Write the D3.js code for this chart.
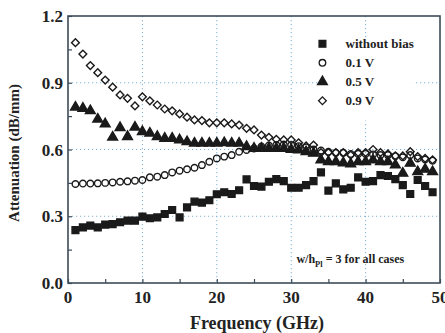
<!DOCTYPE html>
<html>
<head>
<meta charset="utf-8">
<script src="https://cdn.jsdelivr.net/npm/d3@7"></script>
<style>
  body { margin: 0; background: #fff; }
  svg { display: block; }
  text { font-family: "Liberation Serif", "Times New Roman", serif; font-weight: bold; fill: #222; }
</style>
</head>
<body>
<div id="chart"></div>
<script>
// frequency points (GHz)
const freq = d3.range(1, 50);

const withoutBias = [0.238, 0.25, 0.258, 0.25, 0.262, 0.265, 0.273, 0.28, 0.28, 0.298,
  0.291, 0.295, 0.31, 0.328, 0.295, 0.34, 0.366, 0.361, 0.372, 0.399,
  0.408, 0.40, 0.417, 0.466, 0.436, 0.433, 0.455, 0.467, 0.458, 0.428,
  0.428, 0.44, 0.458, 0.497, 0.415, 0.448, 0.421, 0.428, 0.475, 0.455,
  0.458, 0.485, 0.481, 0.467, 0.44, 0.40, 0.463, 0.436, 0.408];

const v01 = [0.445, 0.447, 0.447, 0.448, 0.45, 0.452, 0.455, 0.457, 0.46, 0.463,
  0.475, 0.478, 0.485, 0.497, 0.505, 0.511, 0.518, 0.53, 0.545, 0.56,
  0.568, 0.575, 0.59, 0.598, 0.605, 0.613, 0.618, 0.62, 0.622, 0.62,
  0.615, 0.61, 0.60, 0.595, 0.59, 0.585, 0.585, 0.58, 0.58, 0.58,
  0.578, 0.575, 0.575, 0.57, 0.565, 0.575, 0.56, 0.555, 0.55];

const v05 = [0.79, 0.785, 0.774, 0.736, 0.715, 0.655, 0.698, 0.658, 0.70, 0.68,
  0.673, 0.658, 0.65, 0.65, 0.643, 0.635, 0.628, 0.628, 0.628, 0.628,
  0.63, 0.628, 0.628, 0.613, 0.605, 0.605, 0.605, 0.605, 0.605, 0.60,
  0.598, 0.59, 0.583, 0.553, 0.545, 0.545, 0.54, 0.535, 0.545, 0.545,
  0.553, 0.545, 0.545, 0.53, 0.493, 0.538, 0.50, 0.511, 0.50];

const v09 = [1.08, 1.029, 0.977, 0.945, 0.912, 0.88, 0.845, 0.83, 0.796, 0.837,
  0.819, 0.80, 0.782, 0.774, 0.76, 0.745, 0.733, 0.73, 0.72, 0.72,
  0.72, 0.715, 0.71, 0.695, 0.688, 0.665, 0.655, 0.646, 0.643, 0.643,
  0.63, 0.616, 0.62, 0.586, 0.586, 0.586, 0.586, 0.575, 0.586, 0.586,
  0.60, 0.586, 0.58, 0.571, 0.571, 0.59, 0.568, 0.56, 0.553];

const xTicks = [0, 10, 20, 30, 40, 50];
const yTicks = [0.0, 0.3, 0.6, 0.9, 1.2];
const legendLabels = ['without bias', '0.1 V', '0.5 V', '0.9 V'];

const W = 445, H = 333;
const margin = { top: 16, right: 5, bottom: 50, left: 68 };
const pw = 440 - margin.left, ph = 283 - margin.top;

const svg = d3.select('#chart').append('svg')
  .attr('width', W)
  .attr('height', H);

const g = svg.append('g')
  .attr('transform', `translate(${margin.left},${margin.top})`);

const x = d3.scaleLinear().domain([0, 50]).range([0, pw]);
const y = d3.scaleLinear().domain([0, 1.2]).range([ph, 0]);

const axisColor = '#3d4b58';
const gridColor = '#7fb0d2';

// grid lines
g.selectAll('.gx')
  .data(xTicks.filter(d => d > 0 && d < 50))
  .enter().append('line')
  .attr('x1', d => x(d)).attr('x2', d => x(d))
  .attr('y1', 0).attr('y2', ph)
  .attr('stroke', gridColor)
  .attr('stroke-width', 1)
  .attr('stroke-dasharray', '1.2,2.8');

g.selectAll('.gy')
  .data(yTicks.filter(d => d > 0 && d < 1.2))
  .enter().append('line')
  .attr('x1', 0).attr('x2', pw)
  .attr('y1', d => y(d)).attr('y2', d => y(d))
  .attr('stroke', gridColor)
  .attr('stroke-width', 1)
  .attr('stroke-dasharray', '1.2,2.8');

// axes with inward ticks
const xAxis = g.append('g')
  .attr('transform', `translate(0,${ph})`)
  .call(d3.axisBottom(x).tickValues(d3.range(0, 51, 5)).tickSize(-4).tickFormat(''));
const yAxis = g.append('g')
  .call(d3.axisLeft(y).tickValues(d3.range(0, 1.21, 0.15)).tickSize(-4).tickFormat(''));

[xAxis, yAxis].forEach(a => {
  a.select('.domain').remove();
  a.selectAll('line').attr('stroke', axisColor).attr('stroke-width', 1.2);
});

// tick labels
g.selectAll('.xl')
  .data(xTicks)
  .enter().append('text')
  .attr('x', d => x(d))
  .attr('y', ph + 20)
  .attr('text-anchor', 'middle')
  .style('font-size', '17px')
  .text(d => d);

g.selectAll('.yl')
  .data(yTicks)
  .enter().append('text')
  .attr('x', -5)
  .attr('y', d => y(d) + 6)
  .attr('text-anchor', 'end')
  .style('font-size', '17px')
  .text(d => d.toFixed(1));

// frame
g.append('rect')
  .attr('width', pw)
  .attr('height', ph)
  .attr('fill', 'none')
  .attr('stroke', axisColor)
  .attr('stroke-width', 1.6);

// axis titles
svg.append('text')
  .attr('x', 257)
  .attr('y', 329)
  .attr('text-anchor', 'middle')
  .style('font-size', '18px')
  .text('Frequency (GHz)');

svg.append('text')
  .attr('transform', `translate(19,153) rotate(-90)`)
  .attr('text-anchor', 'middle')
  .style('font-size', '15px')
  .text('Attenuation (dB/mm)');

// markers
const sq = d3.symbol().type(d3.symbolSquare).size(46)();
const circ = d3.symbol().type(d3.symbolCircle).size(34)();
const tri = d3.symbol().type(d3.symbolTriangle).size(42)();
const dia = d3.symbol().type(d3.symbolSquare).size(30)();

const series = [
  { values: withoutBias, path: sq, fill: '#1a1a1a', rot: 0 },
  { values: v01, path: circ, fill: 'none', rot: 0 },
  { values: v05, path: tri, fill: '#1a1a1a', rot: 0 },
  { values: v09, path: dia, fill: 'none', rot: 45 }
];

// legend background
g.append('rect')
  .attr('x', x(33.6)).attr('y', y(1.1))
  .attr('width', x(46.4) - x(33.6)).attr('height', y(0.73) - y(1.1))
  .attr('fill', '#fff');

series.forEach(s => {
  g.selectAll(null)
    .data(s.values)
    .enter().append('path')
    .attr('d', s.path)
    .attr('transform', (d, i) => `translate(${x(freq[i])},${y(d)}) rotate(${s.rot})`)
    .attr('fill', s.fill)
    .attr('stroke', '#1a1a1a')
    .attr('stroke-width', 1.4);
});

// legend
const leg = g.append('g');
series.forEach((s, i) => {
  const ly = y(1.075) + i * 19;
  leg.append('path')
    .attr('d', s.path)
    .attr('transform', `translate(${x(34.2)},${ly}) rotate(${s.rot})`)
    .attr('fill', s.fill)
    .attr('stroke', '#1a1a1a')
    .attr('stroke-width', 1.3);
  leg.append('text')
    .attr('x', x(37.3))
    .attr('y', ly + 4.5)
    .style('font-size', '13px')
    .text(legendLabels[i]);
});

// note
const note = g.append('text')
  .attr('x', x(30.7))
  .attr('y', y(0.09))
  .style('font-size', '12px');
note.append('tspan').text('w/h');
note.append('tspan').attr('dy', 4).style('font-size', '8.5px').text('Pl');
note.append('tspan').attr('dy', -4).text(' = 3 for all cases');
</script>
</body>
</html>
